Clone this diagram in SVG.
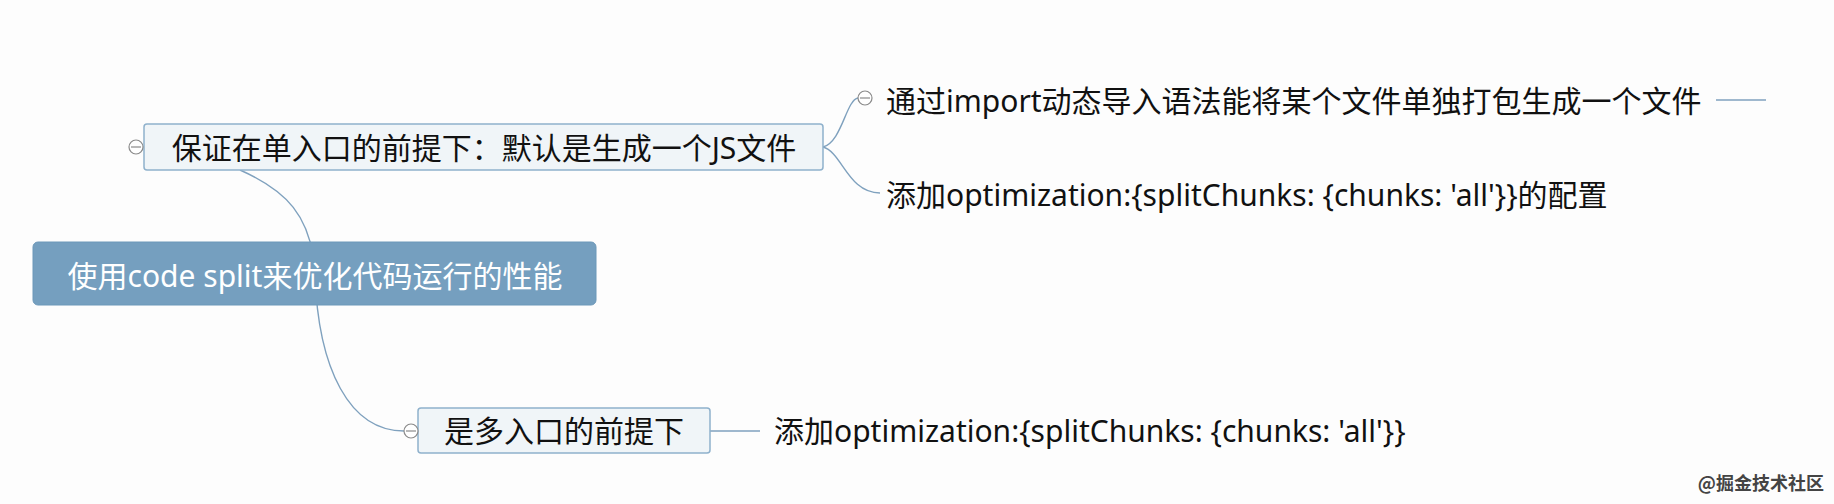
<svg xmlns="http://www.w3.org/2000/svg" width="1834" height="504" viewBox="0 0 1834 504">
<style>
.bg{fill:#fdfdfd}
.t{font-family:"Noto Sans","Noto Sans CJK SC",sans-serif;font-size:30px;fill:#111}
.root rect{fill:#759fbf;stroke:#6d98b9;stroke-width:1}
.root text{fill:#fff;font-size:30px}
.main rect{fill:#f0f5f8;stroke:#8fb1cc;stroke-width:1.5}
.conn path{fill:none;stroke:#7fa1be;stroke-width:1.4}
.tog{fill:#fff;stroke:#8a8a8a;stroke-width:1.2}
.tog line{stroke:#8a8a8a;stroke-width:1.2}
.wm{font-family:"Noto Sans CJK SC",sans-serif;font-size:18px;font-weight:bold;fill:#444}
</style>
<rect class="bg" x="0" y="0" width="1834" height="504"/>
<g id="connectors" class="conn">
<path d="M315,274 C312,215 285,190 240,170"/>
<path d="M315,274 C318,370 350,431 404,431"/>
<path d="M823,147 C842,142 846,100 858,98"/>
<path d="M823,147 C842,152 848,193 880,193"/>
<path d="M710,431 L760,431"/>
<path d="M1716,100 L1766,100"/>
</g>
<g id="root" class="root">
<rect x="33" y="242" width="563" height="63" rx="5"/>
<text class="t" x="315" y="287" text-anchor="middle">使用code split来优化代码运行的性能</text>
</g>
<g id="nodeA" class="main">
<rect x="144" y="124" width="679" height="46" rx="3"/>
<text class="t" x="484" y="159" text-anchor="middle">保证在单入口的前提下：默认是生成一个JS文件</text>
<g class="tog"><circle cx="136" cy="147" r="7"/><line x1="131" y1="147" x2="141" y2="147"/></g>
</g>
<g id="nodeB" class="main">
<rect x="418" y="408" width="292" height="45" rx="3"/>
<text class="t" x="564" y="442" text-anchor="middle">是多入口的前提下</text>
<g class="tog"><circle cx="411" cy="431" r="7"/><line x1="406" y1="431" x2="416" y2="431"/></g>
</g>
<g id="child1">
<text class="t" x="886" y="112">通过import动态导入语法能将某个文件单独打包生成一个文件</text>
<g class="tog"><circle cx="865" cy="98" r="7"/><line x1="860" y1="98" x2="870" y2="98"/></g>
</g>
<g id="child2">
<text class="t" x="886" y="206">添加optimization:{splitChunks: {chunks: 'all'}}的配置</text>
</g>
<g id="child3">
<text class="t" x="774" y="442">添加optimization:{splitChunks: {chunks: 'all'}}</text>
</g>
<text class="wm" x="1824" y="490" text-anchor="end">@掘金技术社区</text>
</svg>
